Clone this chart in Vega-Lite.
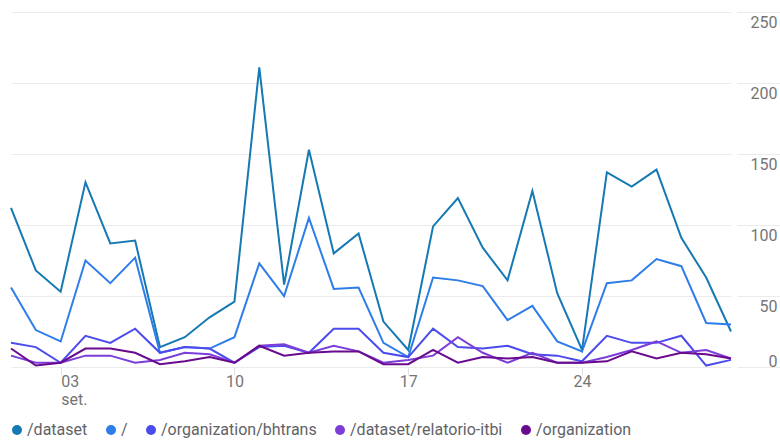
{
  "$schema": "https://vega.github.io/schema/vega-lite/v6.json",
  "width": 720,
  "height": 355,
  "autosize": {"type": "none"},
  "padding": {"left": 11, "top": 12, "right": 49, "bottom": 73},
  "background": "white",
  "config": {
    "view": {"stroke": null},
    "font": "Roboto",
    "axis": {"labelFont": "Roboto", "gridColor": "#ebebeb", "gridWidth": 1}
  },
  "data": {
    "values": [
      {"date": "2017-09-01", "page": "/dataset", "views": 112},
      {"date": "2017-09-02", "page": "/dataset", "views": 68},
      {"date": "2017-09-03", "page": "/dataset", "views": 53},
      {"date": "2017-09-04", "page": "/dataset", "views": 130},
      {"date": "2017-09-05", "page": "/dataset", "views": 87},
      {"date": "2017-09-06", "page": "/dataset", "views": 89},
      {"date": "2017-09-07", "page": "/dataset", "views": 14},
      {"date": "2017-09-08", "page": "/dataset", "views": 21},
      {"date": "2017-09-09", "page": "/dataset", "views": 35},
      {"date": "2017-09-10", "page": "/dataset", "views": 46},
      {"date": "2017-09-11", "page": "/dataset", "views": 211},
      {"date": "2017-09-12", "page": "/dataset", "views": 58},
      {"date": "2017-09-13", "page": "/dataset", "views": 153},
      {"date": "2017-09-14", "page": "/dataset", "views": 80},
      {"date": "2017-09-15", "page": "/dataset", "views": 94},
      {"date": "2017-09-16", "page": "/dataset", "views": 32},
      {"date": "2017-09-17", "page": "/dataset", "views": 12},
      {"date": "2017-09-18", "page": "/dataset", "views": 99},
      {"date": "2017-09-19", "page": "/dataset", "views": 119},
      {"date": "2017-09-20", "page": "/dataset", "views": 84},
      {"date": "2017-09-21", "page": "/dataset", "views": 61},
      {"date": "2017-09-22", "page": "/dataset", "views": 124},
      {"date": "2017-09-23", "page": "/dataset", "views": 52},
      {"date": "2017-09-24", "page": "/dataset", "views": 12},
      {"date": "2017-09-25", "page": "/dataset", "views": 137},
      {"date": "2017-09-26", "page": "/dataset", "views": 127},
      {"date": "2017-09-27", "page": "/dataset", "views": 139},
      {"date": "2017-09-28", "page": "/dataset", "views": 91},
      {"date": "2017-09-29", "page": "/dataset", "views": 63},
      {"date": "2017-09-30", "page": "/dataset", "views": 25},
      {"date": "2017-09-01", "page": "/", "views": 56},
      {"date": "2017-09-02", "page": "/", "views": 26},
      {"date": "2017-09-03", "page": "/", "views": 18},
      {"date": "2017-09-04", "page": "/", "views": 75},
      {"date": "2017-09-05", "page": "/", "views": 59},
      {"date": "2017-09-06", "page": "/", "views": 77},
      {"date": "2017-09-07", "page": "/", "views": 10},
      {"date": "2017-09-08", "page": "/", "views": 14},
      {"date": "2017-09-09", "page": "/", "views": 13},
      {"date": "2017-09-10", "page": "/", "views": 21},
      {"date": "2017-09-11", "page": "/", "views": 73},
      {"date": "2017-09-12", "page": "/", "views": 50},
      {"date": "2017-09-13", "page": "/", "views": 105},
      {"date": "2017-09-14", "page": "/", "views": 55},
      {"date": "2017-09-15", "page": "/", "views": 56},
      {"date": "2017-09-16", "page": "/", "views": 17},
      {"date": "2017-09-17", "page": "/", "views": 7},
      {"date": "2017-09-18", "page": "/", "views": 63},
      {"date": "2017-09-19", "page": "/", "views": 61},
      {"date": "2017-09-20", "page": "/", "views": 57},
      {"date": "2017-09-21", "page": "/", "views": 33},
      {"date": "2017-09-22", "page": "/", "views": 43},
      {"date": "2017-09-23", "page": "/", "views": 18},
      {"date": "2017-09-24", "page": "/", "views": 11},
      {"date": "2017-09-25", "page": "/", "views": 59},
      {"date": "2017-09-26", "page": "/", "views": 61},
      {"date": "2017-09-27", "page": "/", "views": 76},
      {"date": "2017-09-28", "page": "/", "views": 71},
      {"date": "2017-09-29", "page": "/", "views": 31},
      {"date": "2017-09-30", "page": "/", "views": 30},
      {"date": "2017-09-01", "page": "/organization/bhtrans", "views": 17},
      {"date": "2017-09-02", "page": "/organization/bhtrans", "views": 14},
      {"date": "2017-09-03", "page": "/organization/bhtrans", "views": 3},
      {"date": "2017-09-04", "page": "/organization/bhtrans", "views": 22},
      {"date": "2017-09-05", "page": "/organization/bhtrans", "views": 17},
      {"date": "2017-09-06", "page": "/organization/bhtrans", "views": 27},
      {"date": "2017-09-07", "page": "/organization/bhtrans", "views": 10},
      {"date": "2017-09-08", "page": "/organization/bhtrans", "views": 14},
      {"date": "2017-09-09", "page": "/organization/bhtrans", "views": 13},
      {"date": "2017-09-10", "page": "/organization/bhtrans", "views": 3},
      {"date": "2017-09-11", "page": "/organization/bhtrans", "views": 14},
      {"date": "2017-09-12", "page": "/organization/bhtrans", "views": 15},
      {"date": "2017-09-13", "page": "/organization/bhtrans", "views": 10},
      {"date": "2017-09-14", "page": "/organization/bhtrans", "views": 27},
      {"date": "2017-09-15", "page": "/organization/bhtrans", "views": 27},
      {"date": "2017-09-16", "page": "/organization/bhtrans", "views": 10},
      {"date": "2017-09-17", "page": "/organization/bhtrans", "views": 7},
      {"date": "2017-09-18", "page": "/organization/bhtrans", "views": 27},
      {"date": "2017-09-19", "page": "/organization/bhtrans", "views": 14},
      {"date": "2017-09-20", "page": "/organization/bhtrans", "views": 13},
      {"date": "2017-09-21", "page": "/organization/bhtrans", "views": 15},
      {"date": "2017-09-22", "page": "/organization/bhtrans", "views": 9},
      {"date": "2017-09-23", "page": "/organization/bhtrans", "views": 8},
      {"date": "2017-09-24", "page": "/organization/bhtrans", "views": 4},
      {"date": "2017-09-25", "page": "/organization/bhtrans", "views": 22},
      {"date": "2017-09-26", "page": "/organization/bhtrans", "views": 17},
      {"date": "2017-09-27", "page": "/organization/bhtrans", "views": 17},
      {"date": "2017-09-28", "page": "/organization/bhtrans", "views": 22},
      {"date": "2017-09-29", "page": "/organization/bhtrans", "views": 1},
      {"date": "2017-09-30", "page": "/organization/bhtrans", "views": 5},
      {"date": "2017-09-01", "page": "/dataset/relatorio-itbi", "views": 8},
      {"date": "2017-09-02", "page": "/dataset/relatorio-itbi", "views": 3},
      {"date": "2017-09-03", "page": "/dataset/relatorio-itbi", "views": 3},
      {"date": "2017-09-04", "page": "/dataset/relatorio-itbi", "views": 8},
      {"date": "2017-09-05", "page": "/dataset/relatorio-itbi", "views": 8},
      {"date": "2017-09-06", "page": "/dataset/relatorio-itbi", "views": 3},
      {"date": "2017-09-07", "page": "/dataset/relatorio-itbi", "views": 5},
      {"date": "2017-09-08", "page": "/dataset/relatorio-itbi", "views": 10},
      {"date": "2017-09-09", "page": "/dataset/relatorio-itbi", "views": 9},
      {"date": "2017-09-10", "page": "/dataset/relatorio-itbi", "views": 3},
      {"date": "2017-09-11", "page": "/dataset/relatorio-itbi", "views": 15},
      {"date": "2017-09-12", "page": "/dataset/relatorio-itbi", "views": 16},
      {"date": "2017-09-13", "page": "/dataset/relatorio-itbi", "views": 10},
      {"date": "2017-09-14", "page": "/dataset/relatorio-itbi", "views": 15},
      {"date": "2017-09-15", "page": "/dataset/relatorio-itbi", "views": 11},
      {"date": "2017-09-16", "page": "/dataset/relatorio-itbi", "views": 3},
      {"date": "2017-09-17", "page": "/dataset/relatorio-itbi", "views": 5},
      {"date": "2017-09-18", "page": "/dataset/relatorio-itbi", "views": 8},
      {"date": "2017-09-19", "page": "/dataset/relatorio-itbi", "views": 21},
      {"date": "2017-09-20", "page": "/dataset/relatorio-itbi", "views": 10},
      {"date": "2017-09-21", "page": "/dataset/relatorio-itbi", "views": 3},
      {"date": "2017-09-22", "page": "/dataset/relatorio-itbi", "views": 10},
      {"date": "2017-09-23", "page": "/dataset/relatorio-itbi", "views": 3},
      {"date": "2017-09-24", "page": "/dataset/relatorio-itbi", "views": 3},
      {"date": "2017-09-25", "page": "/dataset/relatorio-itbi", "views": 7},
      {"date": "2017-09-26", "page": "/dataset/relatorio-itbi", "views": 12},
      {"date": "2017-09-27", "page": "/dataset/relatorio-itbi", "views": 18},
      {"date": "2017-09-28", "page": "/dataset/relatorio-itbi", "views": 10},
      {"date": "2017-09-29", "page": "/dataset/relatorio-itbi", "views": 12},
      {"date": "2017-09-30", "page": "/dataset/relatorio-itbi", "views": 6},
      {"date": "2017-09-01", "page": "/organization", "views": 13},
      {"date": "2017-09-02", "page": "/organization", "views": 1},
      {"date": "2017-09-03", "page": "/organization", "views": 3},
      {"date": "2017-09-04", "page": "/organization", "views": 13},
      {"date": "2017-09-05", "page": "/organization", "views": 13},
      {"date": "2017-09-06", "page": "/organization", "views": 10},
      {"date": "2017-09-07", "page": "/organization", "views": 2},
      {"date": "2017-09-08", "page": "/organization", "views": 4},
      {"date": "2017-09-09", "page": "/organization", "views": 7},
      {"date": "2017-09-10", "page": "/organization", "views": 3},
      {"date": "2017-09-11", "page": "/organization", "views": 15},
      {"date": "2017-09-12", "page": "/organization", "views": 8},
      {"date": "2017-09-13", "page": "/organization", "views": 10},
      {"date": "2017-09-14", "page": "/organization", "views": 11},
      {"date": "2017-09-15", "page": "/organization", "views": 11},
      {"date": "2017-09-16", "page": "/organization", "views": 2},
      {"date": "2017-09-17", "page": "/organization", "views": 2},
      {"date": "2017-09-18", "page": "/organization", "views": 12},
      {"date": "2017-09-19", "page": "/organization", "views": 3},
      {"date": "2017-09-20", "page": "/organization", "views": 7},
      {"date": "2017-09-21", "page": "/organization", "views": 6},
      {"date": "2017-09-22", "page": "/organization", "views": 7},
      {"date": "2017-09-23", "page": "/organization", "views": 3},
      {"date": "2017-09-24", "page": "/organization", "views": 3},
      {"date": "2017-09-25", "page": "/organization", "views": 4},
      {"date": "2017-09-26", "page": "/organization", "views": 11},
      {"date": "2017-09-27", "page": "/organization", "views": 6},
      {"date": "2017-09-28", "page": "/organization", "views": 10},
      {"date": "2017-09-29", "page": "/organization", "views": 9},
      {"date": "2017-09-30", "page": "/organization", "views": 6}
    ]
  },
  "mark": {"type": "line", "strokeWidth": 2, "interpolate": "linear"},
  "encoding": {
    "x": {
      "field": "date",
      "type": "temporal",
      "scale": {"type": "utc", "nice": false},
      "axis": {
        "title": null,
        "grid": false,
        "domain": false,
        "values": [
          {"year": 2017, "month": 9, "date": 3, "utc": true},
          {"year": 2017, "month": 9, "date": 10, "utc": true},
          {"year": 2017, "month": 9, "date": 17, "utc": true},
          {"year": 2017, "month": 9, "date": 24, "utc": true}
        ],
        "labelExpr": "utcdate(datum.value) == 3 ? ['03', 'set.'] : utcFormat(datum.value, '%d')",
        "labelAlign": {"condition": {"test": "utcdate(datum.value) == 3", "value": "left"}, "value": "center"},
        "labelBaseline": "top",
        "labelLineHeight": 18,
        "labelFontSize": 16,
        "labelColor": "#757575",
        "labelPadding": -2,
        "tickSize": 8,
        "tickColor": "#e0e0e0",
        "tickWidth": 1,
        "labelFlush": false,
        "labelOverlap": false
      }
    },
    "y": {
      "field": "views",
      "type": "quantitative",
      "scale": {"domain": [0, 250], "nice": false},
      "axis": {
        "title": null,
        "orient": "right",
        "values": [0, 50, 100, 150, 200, 250],
        "domain": false,
        "offset": 6,
        "tickSize": 43,
        "tickColor": "#ebebeb",
        "tickWidth": 1,
        "labelAlign": "right",
        "labelPadding": -3,
        "labelFontSize": 16,
        "labelColor": "#757575",
        "labelBaseline": {"condition": {"test": "datum.value == 0", "value": "bottom"}, "value": "top"},
        "labelOffset": 2,
        "labelFlush": false,
        "labelOverlap": false
      }
    },
    "color": {
      "field": "page",
      "type": "nominal",
      "sort": ["/dataset", "/", "/organization/bhtrans", "/dataset/relatorio-itbi", "/organization"],
      "scale": {
        "domain": ["/dataset", "/", "/organization/bhtrans", "/dataset/relatorio-itbi", "/organization"],
        "range": ["#1679b3", "#2e7de9", "#4c4cee", "#7b3ed8", "#6a0a8e"]
      },
      "legend": {
        "title": null,
        "orient": "none",
        "direction": "horizontal",
        "legendX": -2,
        "legendY": 410,
        "symbolType": "circle",
        "symbolSize": 100,
        "symbolStrokeWidth": 0,
        "labelFont": "Roboto",
        "labelFontSize": 16,
        "labelColor": "#5f6368",
        "labelOffset": 2,
        "columnPadding": 15,
        "labelLimit": 400,
        "encode": {
          "symbols": {
            "update": {
              "fill": {"scale": "color", "field": "value"},
              "fillOpacity": {"value": 1},
              "strokeWidth": {"value": 0}
            }
          }
        }
      }
    }
  }
}
